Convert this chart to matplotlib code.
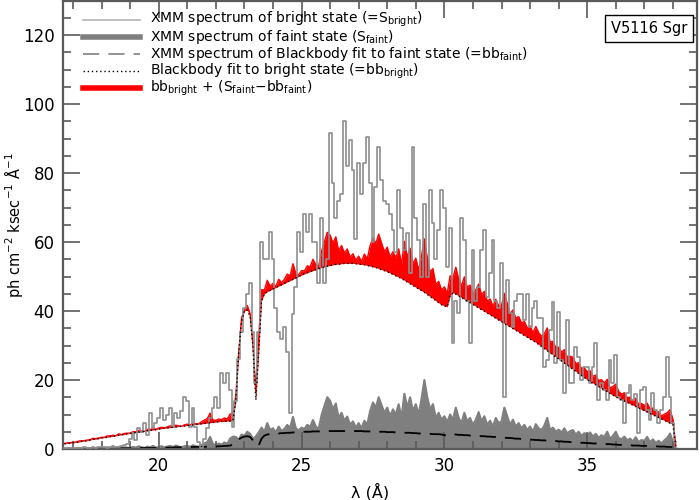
"""
Bright vs faint state X-ray spectra of V5116 Sgr with blackbody fits.
Values read off the reference picture on a 0.1 A grid.
"""

import numpy as np
import matplotlib

matplotlib.use("Agg")
import matplotlib.pyplot as plt  # noqa: E402

# wavelength grid, 16.7 ... 38.1 A in steps of 0.1
wavelength = np.round(np.arange(16.7, 38.15, 0.1), 2)

# XMM spectrum of the bright state (step histogram)
s_bright = [
    0.2, 0.3, 0.2,
    0.3, 0.2, 0.4, 0.3, 0.5, 0.3, 0.4, 0.6, 0.4, 0.5,          # 17
    0.5, 0.7, 0.4, 0.6, 0.8, 0.5, 0.7, 0.9, 1.2, 1.5,          # 18
    3.0, 4.5, 2.5, 6.0, 5.0, 7.5, 4.0, 10.4, 6.0, 7.5,         # 19
    9.0, 12.0, 8.5, 10.0, 12.0, 6.4, 10.4, 9.0, 11.0, 15.0,    # 20
    14.0, 6.4, 12.0, 6.4, 2.0, 0.3, 3.0, 6.0, 9.0, 12.0,       # 21
    15.0, 12.0, 22.0, 19.0, 22.0, 17.0, 6.4, 14.0, 26.0, 34.0,  # 22
    41.0, 45.0, 48.0, 34.0, 19.0, 34.0, 60.0, 55.0, 55.0, 63.0,  # 23
    55.0, 41.0, 34.0, 32.0, 35.5, 28.0, 10.4, 39.0, 47.0, 63.0,  # 24
    57.0, 68.0, 63.0, 68.0, 60.0, 60.0, 48.0, 67.0, 48.0, 55.0,  # 25
    91.6, 77.0, 67.0, 72.0, 74.0, 95.0, 82.0, 89.6, 81.0, 61.0,  # 26
    83.0, 74.0, 83.0, 90.4, 77.0, 60.0, 76.0, 87.5, 78.0, 72.0,  # 27
    71.0, 68.0, 63.5, 57.0, 75.0, 64.0, 57.7, 62.6, 51.0, 87.5,  # 28
    67.0, 60.6, 50.0, 71.0, 50.0, 75.0, 65.5, 55.0, 63.5, 75.0,  # 29
    70.0, 52.8, 64.0, 30.7, 43.0, 39.4, 67.0, 60.6, 43.0, 30.7,  # 30
    57.7, 43.0, 47.0, 57.7, 63.5, 44.0, 51.0, 60.6, 43.0, 41.0,  # 31
    54.0, 15.0, 49.0, 39.4, 35.4, 43.0, 45.0, 45.0, 37.4, 45.0,  # 32
    35.4, 41.0, 43.0, 38.0, 38.0, 23.8, 25.8, 34.5, 42.6, 25.0,  # 33
    39.7, 25.8, 16.2, 37.4, 19.0, 19.0, 29.6, 26.7, 20.0, 23.8,  # 34
    23.8, 19.0, 23.8, 30.7, 14.2, 19.0, 17.0, 14.2, 25.8, 19.0,  # 35
    27.2, 15.0, 14.2, 7.5, 16.2, 18.6, 14.2, 16.0, 4.6, 17.0,    # 36
    18.0, 11.3, 8.4, 16.2, 11.3, 7.5, 11.3, 15.0, 26.7, 15.0,    # 37
    7.5, 2.0,
]

# XMM spectrum of the faint state
s_faint = [
    0.1, 0.2, 0.1,
    0.2, 0.1, 0.3, 0.2, 0.1, 0.3, 0.2, 0.4, 0.2, 0.3,          # 17
    0.3, 0.2, 0.5, 0.3, 0.4, 0.2, 0.6, 0.3, 0.5, 0.4,          # 18
    0.3, 0.6, 0.4, 0.8, 0.5, 0.3, 0.7, 0.5, 0.9, 0.4,          # 19
    0.6, 0.8, 0.5, 0.7, 0.9, 0.6, 1.0, 0.7, 0.5, 0.8,          # 20
    0.9, 0.6, 1.1, 0.8, 0.7, 1.2, 1.6, 2.0, 3.5, 1.4,          # 21
    1.2, 1.6, 1.3, 1.9, 1.5, 3.0, 3.6, 3.5, 2.6, 4.2,          # 22
    3.8, 5.0, 4.4, 3.0, 3.6, 4.8, 6.2, 5.0, 7.5, 5.5,          # 23
    6.0, 4.8, 6.5, 5.2, 5.8, 7.0, 6.1, 9.3, 6.0, 5.4,          # 24
    6.2, 5.8, 7.0, 6.4, 8.4, 6.5, 5.8, 9.8, 12.5, 15.0,        # 25
    14.0, 11.5, 13.2, 9.0, 10.5, 8.2, 9.4, 7.0, 8.0, 6.2,      # 26
    7.5, 6.0, 8.2, 7.0, 11.0, 13.5, 12.0, 15.0, 12.7, 10.5,    # 27
    12.0, 9.5, 11.5, 10.0, 13.0, 9.0, 16.0, 12.0, 15.0, 11.0,  # 28
    13.0, 10.0, 14.5, 20.0, 15.0, 11.5, 13.0, 9.0, 10.5, 8.5,  # 29
    9.5, 7.8, 10.0, 8.5, 12.0, 9.0, 7.5, 10.5, 8.0, 9.0,       # 30
    7.0, 8.5, 10.7, 8.0, 9.5, 7.0, 8.2, 6.5, 9.0, 7.5,         # 31
    8.0, 12.0, 9.5, 7.0, 8.5, 6.5, 7.5, 6.0, 7.0, 5.5,         # 32
    6.5, 5.0, 7.2, 6.0, 5.5, 6.8, 9.0, 5.5, 6.2, 5.0,          # 33
    5.6, 4.8, 6.0, 4.5, 5.2, 5.5, 4.2, 5.0, 3.8, 4.6,          # 34
    4.0, 4.8, 3.6, 4.4, 3.2, 4.0, 3.5, 5.0, 3.0, 3.8,          # 35
    5.0, 3.2, 2.8, 3.6, 2.5, 3.0, 2.2, 3.4, 2.0, 2.6,          # 36
    2.4, 3.5, 2.0, 2.8, 1.8, 2.4, 1.6, 2.5, 3.2, 4.5,          # 37
    2.0, 0.3,
]

# blackbody fit to the faint state
bb_faint = [
    0.0, 0.0, 0.0,
    0.0, 0.0, 0.0, 0.0, 0.0, 0.1, 0.1, 0.1, 0.1, 0.1,          # 17
    0.1, 0.1, 0.1, 0.1, 0.1, 0.2, 0.2, 0.2, 0.2, 0.2,          # 18
    0.2, 0.2, 0.2, 0.3, 0.3, 0.3, 0.3, 0.3, 0.3, 0.3,          # 19
    0.3, 0.4, 0.4, 0.4, 0.4, 0.4, 0.5, 0.5, 0.5, 0.5,          # 20
    0.5, 0.5, 0.6, 0.6, 0.6, 0.6, 0.6, 0.7, 0.7, 0.7,          # 21
    0.7, 0.8, 0.8, 0.9, 0.9, 1.0, 1.3, 2.0, 2.8, 3.3,          # 22
    3.6, 3.7, 3.5, 2.5, 1.2, 1.0, 3.0, 3.9, 4.2, 4.3,          # 23
    4.4, 4.5, 4.5, 4.6, 4.6, 4.7, 4.7, 4.8, 4.8, 4.9,          # 24
    4.9, 5.0, 5.0, 5.0, 5.1, 5.1, 5.1, 5.1, 5.2, 5.2,          # 25
    5.2, 5.2, 5.2, 5.2, 5.2, 5.2, 5.2, 5.2, 5.2, 5.2,          # 26
    5.2, 5.2, 5.1, 5.1, 5.1, 5.1, 5.0, 5.0, 5.0, 5.0,          # 27
    4.9, 4.9, 4.9, 4.8, 4.8, 4.8, 4.7, 4.7, 4.7, 4.6,          # 28
    4.6, 4.5, 4.5, 4.5, 4.4, 4.4, 4.3, 4.3, 4.3, 4.2,          # 29
    4.0, 3.9, 4.3, 4.2, 4.2, 4.1, 4.1, 4.0, 4.0, 3.9,          # 30
    3.9, 3.8, 3.8, 3.7, 3.7, 3.6, 3.6, 3.5, 3.5, 3.4,          # 31
    3.3, 3.3, 3.2, 3.2, 3.1, 3.0, 3.0, 2.9, 2.9, 2.8,          # 32
    2.7, 2.7, 2.6, 2.6, 2.5, 2.5, 2.4, 2.4, 2.3, 2.3,          # 33
    2.2, 2.2, 2.1, 2.1, 2.0, 2.0, 1.9, 1.9, 1.8, 1.8,          # 34
    1.7, 1.7, 1.6, 1.6, 1.5, 1.5, 1.5, 1.4, 1.4, 1.3,          # 35
    1.3, 1.2, 1.2, 1.2, 1.1, 1.1, 1.0, 1.0, 1.0, 0.9,          # 36
    0.9, 0.9, 0.8, 0.8, 0.8, 0.7, 0.7, 0.7, 0.6, 0.6,          # 37
    0.5, 0.4,
]

# blackbody fit to the bright state
bb_bright = [
    1.5, 1.6, 1.7,
    1.8, 1.9, 2.0, 2.2, 2.3, 2.4, 2.6, 2.8, 2.9, 3.0,          # 17
    3.2, 3.3, 3.4, 3.6, 3.7, 3.8, 4.0, 4.1, 4.2, 4.4,          # 18
    4.5, 4.6, 4.8, 4.9, 5.0, 5.1, 5.3, 5.4, 5.5, 5.6,          # 19
    5.8, 5.9, 6.0, 6.1, 6.2, 6.3, 6.4, 6.5, 6.6, 6.7,          # 20
    6.8, 6.9, 7.0, 7.1, 7.2, 7.3, 7.4, 7.5, 7.6, 7.7,          # 21
    7.8, 7.9, 8.0, 8.0, 8.1, 8.1, 8.2, 14.0, 28.0, 37.0,       # 22
    40.0, 40.3, 38.3, 29.6, 14.2, 28.0, 43.0, 45.0, 45.6, 46.0,  # 23
    46.4, 46.8, 47.2, 47.6, 48.0, 48.4, 48.8, 49.2, 49.6, 50.0,  # 24
    50.4, 50.8, 51.1, 51.4, 51.7, 52.0, 52.3, 52.6, 52.8, 53.0,  # 25
    53.2, 53.4, 53.5, 53.6, 53.7, 53.8, 53.8, 53.8, 53.8, 53.7,  # 26
    53.6, 53.5, 53.4, 53.2, 53.0, 52.8, 52.6, 52.3, 52.0, 51.7,  # 27
    51.4, 51.0, 50.6, 50.2, 49.8, 49.4, 48.9, 48.4, 47.9, 47.4,  # 28
    46.9, 46.4, 45.9, 45.4, 44.8, 44.2, 43.6, 43.0, 42.4, 41.8,  # 29
    41.5, 41.2, 44.5, 45.3, 44.9, 44.4, 43.9, 43.4, 42.9, 42.4,  # 30
    41.9, 41.4, 40.9, 40.4, 39.9, 39.4, 38.9, 38.4, 37.9, 37.4,  # 31
    36.9, 36.4, 35.9, 35.4, 34.9, 34.4, 33.9, 33.4, 32.9, 32.4,  # 32
    31.9, 31.4, 30.9, 30.3, 29.7, 29.1, 28.5, 27.9, 27.3, 26.7,  # 33
    26.1, 25.5, 24.9, 24.3, 23.7, 23.1, 22.5, 21.9, 21.3, 20.7,  # 34
    20.1, 19.6, 19.1, 18.6, 18.1, 17.6, 17.1, 16.6, 16.1, 15.6,  # 35
    15.1, 14.7, 14.3, 13.9, 13.5, 13.1, 12.7, 12.3, 11.9, 11.5,  # 36
    11.1, 10.7, 10.3, 9.9, 9.5, 9.1, 8.7, 8.3, 7.9, 7.5,         # 37
    7.1, 1.0,
]

for series in (s_bright, s_faint, bb_faint, bb_bright):
    assert len(series) == len(wavelength), len(series)

s_bright = np.array(s_bright)
s_faint = np.array(s_faint)
bb_faint = np.array(bb_faint)
bb_bright = np.array(bb_bright)

# red curve: bright blackbody plus the faint-state residuals
combined = bb_bright + (s_faint - bb_faint)

AXIS_GREY = "#5a5a5a"

fig = plt.figure(figsize=(7, 5), dpi=100)
ax = fig.add_axes([0.09, 0.102, 0.906, 0.897])

# faint state: thick grey, dense enough to look filled
ax.fill_between(wavelength, 0, s_faint, color="#7f7f7f", lw=0, zorder=1)
ax.plot(wavelength, s_faint, color="#7f7f7f", lw=1.5, zorder=1)

ax.plot(wavelength, bb_faint, color="black", lw=1.3,
        dashes=(9, 5), zorder=2)

ax.fill_between(wavelength, bb_bright, combined, color="red", lw=0,
                zorder=3)
ax.plot(wavelength, combined, color="red", lw=1.0, zorder=3)

ax.step(wavelength, s_bright, where="mid", color="#8e8e8e", lw=1.2,
        zorder=4)

ax.plot(wavelength, bb_bright, color="black", lw=1.0, ls=(0, (1, 2)),
        zorder=5)

ax.set_xlim(16.65, 38.85)
ax.set_ylim(0, 130)
ax.set_xticks([20, 25, 30, 35])
ax.set_xticks(np.arange(17, 39, 1), minor=True)
ax.set_yticks(np.arange(0, 121, 20))
ax.set_yticks(np.arange(0, 131, 5), minor=True)
ax.tick_params(which="both", direction="in", top=True, right=True,
               color=AXIS_GREY, width=1.2, labelsize=12, pad=6)
ax.tick_params(which="major", length=12)
ax.tick_params(which="minor", length=6)
for spine in ax.spines.values():
    spine.set_color(AXIS_GREY)
    spine.set_linewidth(1.6)

ax.set_xlabel("λ (Å)", fontsize=11.5)
ax.set_ylabel("ph cm$^{-2}$ ksec$^{-1}$ Å$^{-1}$", fontsize=10.5)
ax.xaxis.set_label_coords(0.484, -0.075)
ax.yaxis.set_label_coords(-0.06, 0.5)

# legend drawn row by row so the spacing matches the original
legend_rows = [
    ("XMM spectrum of bright state (=S$_{\\rm bright}$)",
     dict(color="#b4b4b4", lw=1.2)),
    ("XMM spectrum of faint state (S$_{\\rm faint}$)",
     dict(color="#7f7f7f", lw=4)),
    ("XMM spectrum of Blackbody fit to faint state (=bb$_{\\rm faint}$)",
     dict(color="#8a8a8a", lw=1.3, dashes=(9, 5))),
    ("Blackbody fit to bright state (=bb$_{\\rm bright}$)",
     dict(color="black", lw=1.0, ls=(0, (1, 2)))),
    ("bb$_{\\rm bright}$ + (S$_{\\rm faint}$$-$bb$_{\\rm faint}$)",
     dict(color="red", lw=4)),
]
row_y = [0.957, 0.919, 0.881, 0.843, 0.804]
for (label, style), y in zip(legend_rows, row_y):
    ax.plot([0.0315, 0.1215], [y, y], transform=ax.transAxes,
            clip_on=False, zorder=6, **style)
    ax.text(0.137, y, label, transform=ax.transAxes, fontsize=10,
            ha="left", va="center", zorder=6)

ax.text(0.984, 0.955, "V5116 Sgr", transform=ax.transAxes, fontsize=10.5,
        ha="right", va="top",
        bbox=dict(boxstyle="square,pad=0.4", facecolor="white",
                  edgecolor="black", lw=1.0))

fig.savefig("out.png", dpi=100)
plt.close(fig)
